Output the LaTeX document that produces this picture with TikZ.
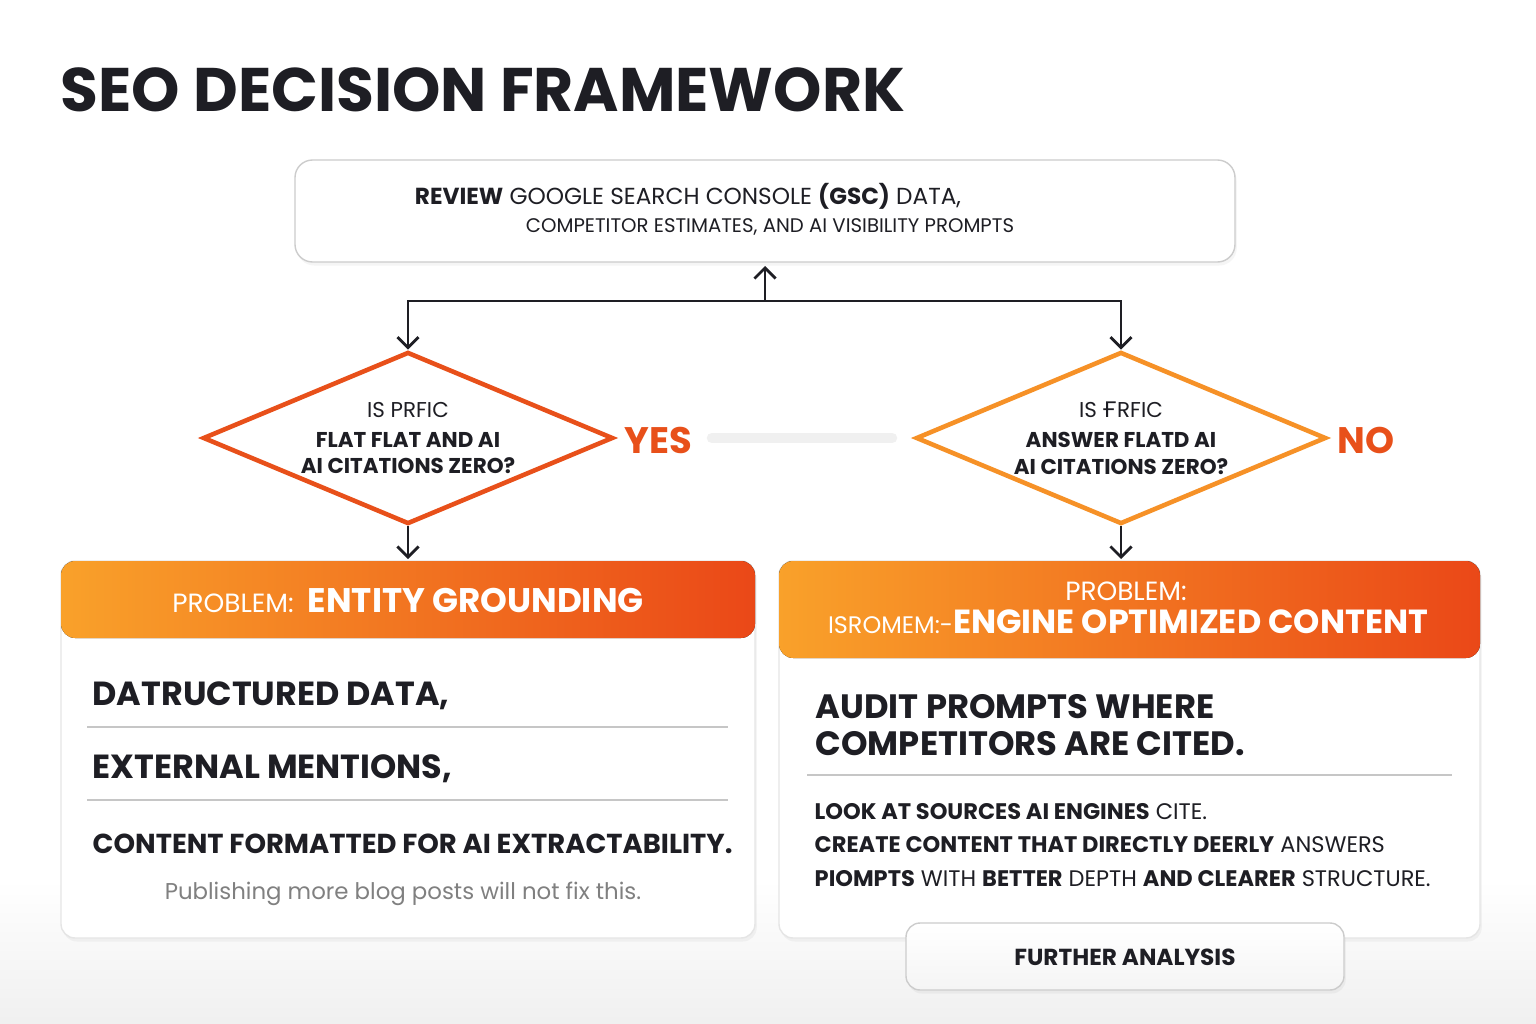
\documentclass[tikz,border=0pt]{standalone}
\usepackage{fontspec}
\setmainfont{Poppins}
\newfontfamily\dvs{DejaVu Sans}
\usepackage{tikz}
\usetikzlibrary{shapes.geometric, arrows.meta, positioning, shadows}
\definecolor{org}{HTML}{E8501A}
\definecolor{orgl}{HTML}{F9A12A}
\definecolor{ink}{HTML}{1E1E24}
\tikzset{
  card/.style={draw=gray!20, fill=white, rounded corners=4pt, drop shadow={opacity=0.08, shadow xshift=0.5pt, shadow yshift=-1pt}},
  head/.style={rounded corners=4pt, left color=orgl, right color=org!90!red, text=white},
  dia/.style={diamond, draw=org, line width=1.3pt, fill=white, aspect=2.38, minimum width=4.1cm, minimum height=1.72cm, inner sep=0pt, align=center, font=\fontsize{6.1}{7.6}\selectfont, text=ink},
  link/.style={-{Straight Barb[length=3pt]}, draw=ink, line width=0.8pt},
  rule/.style={draw=gray!45, line width=0.5pt}
}
\begin{document}
\begin{tikzpicture}[x=0.01cm, y=-0.01cm]
  \useasboundingbox[fill=white] (0,0) rectangle (1536,1024);
  \shade[top color=white, bottom color=gray!12] (0,880) rectangle (1536,1024);
  % titel
  \node[anchor=west, inner sep=0pt, text=ink, font=\fontsize{17.5}{21}\selectfont\bfseries] (title) at (60,90) {SEO DECISION FRAMEWORK};
  % bron
  \draw[card, rounded corners=5pt, draw=gray!40] (295,160) rectangle (1235,262);
  \node[text=ink, font=\fontsize{6.6}{8}\selectfont] (rev1) at (688,196) {\textbf{REVIEW} GOOGLE SEARCH CONSOLE \textbf{(GSC)} DATA,};
  \node[text=ink, font=\fontsize{5.6}{7}\selectfont] (rev2) at (770,227) {COMPETITOR ESTIMATES, AND AI VISIBILITY PROMPTS};
  \coordinate (top) at (765,266);
  \coordinate (split) at (765,301);
  % ruiten
  \node[dia] (dl) at (408,438) {IS PRFIC\\[1pt] \textbf{FLAT FLAT AND AI}\\ \textbf{AI CITATIONS ZERO?}};
  \node[dia, draw=orgl!80!org] (dr) at (1121,438) {IS {\dvs Ғ}RFIC\\[1pt] \textbf{ANSWER FLATD AI}\\ \textbf{AI CITATIONS ZERO?}};
  \draw[link] (split) -- (top);
  \draw[link] (split) -| (dl.north);
  \draw[link] (split) -| (dr.north);
  \node[text=org, font=\fontsize{10.5}{12}\selectfont\bfseries] (yes) at (658,440) {YES};
  \node[text=org, font=\fontsize{10.5}{12}\selectfont\bfseries] (no) at (1366,440) {NO};
  \draw[gray!12, line width=3pt, line cap=round] (712,438) -- (892,438);
  % kaarten
  \draw[card] (61,561) rectangle (755,938);
  \fill[head] (61,561) rectangle (755,638);
  \draw[card] (779,561) rectangle (1480,938);
  \fill[head] (779,561) rectangle (1480,658);
  \coordinate (hl) at (408,559);
  \coordinate (hr) at (1121,559);
  \draw[link] (dl.south) -- (hl);
  \draw[link] (dr.south) -- (hr);
  \node[text=white, font=\fontsize{9.7}{11}\selectfont] (pl) at (408,600) {\fontsize{7.5}{9}\selectfont PROBLEM:\ \ \fontsize{9.7}{11}\selectfont\bfseries ENTITY GROUNDING};
  \node[text=white, font=\fontsize{7.5}{9}\selectfont] (pr1) at (1126,591) {PROBLEM:};
  \node[text=white] (pr2) at (1128,622) {\fontsize{6.8}{9}\selectfont ISROMEM:-\fontsize{9.5}{11}\selectfont\bfseries ENGINE OPTIMIZED CONTENT};
  % links
  \node[anchor=west, inner sep=0pt, text=ink, font=\fontsize{9.5}{11}\selectfont\bfseries] (l1) at (92,696) {DATRUCTURED DATA,};
  \draw[rule] (87,727) -- (728,727);
  \node[anchor=west, inner sep=0pt, text=ink, font=\fontsize{9.5}{11}\selectfont\bfseries] (l2) at (92,769) {EXTERNAL MENTIONS,};
  \draw[rule] (87,800) -- (728,800);
  \node[anchor=west, inner sep=0pt, text=ink, font=\fontsize{7.8}{10}\selectfont\bfseries] (l3) at (92,844) {CONTENT FORMATTED FOR AI EXTRACTABILITY.};
  \node[text=gray, font=\fontsize{6.5}{8}\selectfont] (l4) at (403,894) {Publishing more blog posts will not fix this.};
  % rechts
  \node[anchor=west, inner sep=0pt, text=ink, align=left, font=\fontsize{9.6}{10.3}\selectfont\bfseries] (r1) at (815,725) {AUDIT PROMPTS WHERE\\COMPETITORS ARE CITED.};
  \draw[rule] (807,775) -- (1452,775);
  \node[anchor=west, inner sep=0pt, text=ink, align=left, font=\fontsize{6.4}{9.6}\selectfont] (r2) at (814,845) {\textbf{LOOK AT SOURCES AI ENGINES} CITE.\\\textbf{CREATE CONTENT THAT DIRECTLY DEERLY} ANSWERS\\\textbf{PIOMPTS} WITH \textbf{BETTER} DEPTH \textbf{AND CLEARER} STRUCTURE.};
  \draw[card, draw=gray!40, top color=white, bottom color=gray!8] (906,923) rectangle (1344,990);
  \node[text=ink, font=\fontsize{6.6}{9}\selectfont\bfseries] (fa) at (1125,957) {FURTHER ANALYSIS};
\end{tikzpicture}
\end{document}
